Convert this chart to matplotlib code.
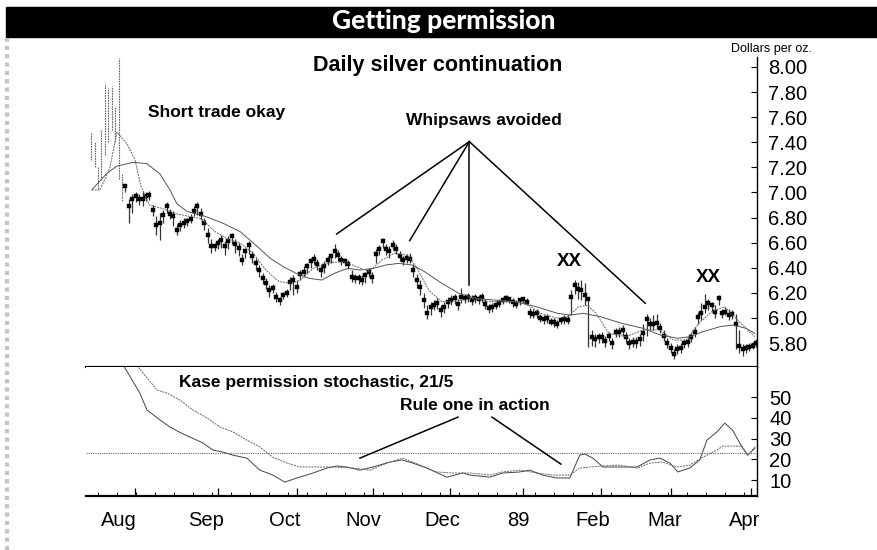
import numpy as np
import matplotlib
matplotlib.use("Agg")
import matplotlib.pyplot as plt
from matplotlib.lines import Line2D
from matplotlib.patches import Rectangle

plt.rcParams['font.family'] = ['Liberation Sans', 'DejaVu Sans']

# ---------------- data ----------------
close = [7.35, 7.30, 7.10, 7.40, 7.75, 7.55, 7.70, 7.50, 7.20, 7.10,
         7.05, 6.89, 6.95, 6.97, 6.95, 6.95, 6.97, 6.98, 6.86, 6.74,
         6.76, 6.82, 6.89, 6.83, 6.81, 6.70, 6.74, 6.76, 6.77, 6.79,
         6.85, 6.89, 6.83, 6.76, 6.66, 6.57, 6.57, 6.60, 6.62, 6.57,
         6.61, 6.65, 6.59, 6.56, 6.46, 6.53, 6.58, 6.49, 6.44, 6.38,
         6.32, 6.28, 6.22, 6.24, 6.17, 6.14, 6.18, 6.20, 6.29, 6.30,
         6.25, 6.35, 6.37, 6.41, 6.45, 6.47, 6.43, 6.38, 6.41, 6.46,
         6.49, 6.53, 6.50, 6.46, 6.45, 6.43, 6.33, 6.32, 6.32, 6.30,
         6.34, 6.37, 6.33, 6.51, 6.55, 6.61, 6.55, 6.53, 6.58, 6.55,
         6.49, 6.46, 6.48, 6.47, 6.38, 6.30, 6.25, 6.14, 6.04, 6.09,
         6.10, 6.12, 6.06, 6.09, 6.13, 6.14, 6.16, 6.11, 6.17, 6.16,
         6.17, 6.14, 6.16, 6.15, 6.17, 6.11, 6.08, 6.09, 6.10, 6.12,
         6.14, 6.16, 6.15, 6.13, 6.11, 6.14, 6.15, 6.13, 6.04, 6.03,
         6.04, 6.00, 5.99, 6.00, 5.97, 5.97, 5.95, 5.98, 5.99, 5.98,
         6.17, 6.26, 6.23, 6.22, 6.18, 6.15, 5.85, 5.83, 5.85, 5.85,
         5.82, 5.86, 5.80, 5.89, 5.89, 5.90, 5.85, 5.80, 5.81, 5.81,
         5.83, 5.88, 5.99, 5.95, 5.95, 5.96, 5.92, 5.86, 5.80, 5.76,
         5.71, 5.75, 5.76, 5.80, 5.81, 5.85, 5.89, 6.01, 6.04, 6.09,
         6.12, 6.10, 6.05, 6.16, 6.04, 6.05, 6.02, 6.03, 5.95, 5.78,
         5.75, 5.76, 5.77, 5.78, 5.80]
high = [7.47, 7.40, 7.20, 7.50, 7.87, 7.83, 7.85, 7.68, 8.07, 7.15,
        7.07, 6.95, 6.99, 7.00, 6.99, 7.01, 7.00, 7.01, 6.90, 6.81,
        6.84, 6.86, 6.92, 6.87, 6.85, 6.75, 6.78, 6.80, 6.80, 6.83,
        6.89, 6.92, 6.88, 6.80, 6.72, 6.63, 6.60, 6.63, 6.66, 6.61,
        6.65, 6.68, 6.63, 6.60, 6.51, 6.56, 6.61, 6.53, 6.48, 6.42,
        6.36, 6.32, 6.26, 6.27, 6.21, 6.17, 6.21, 6.23, 6.33, 6.34,
        6.30, 6.38, 6.41, 6.44, 6.48, 6.51, 6.47, 6.42, 6.45, 6.49,
        6.52, 6.59, 6.54, 6.49, 6.48, 6.46, 6.38, 6.35, 6.35, 6.34,
        6.37, 6.40, 6.37, 6.55, 6.58, 6.64, 6.59, 6.57, 6.62, 6.59,
        6.53, 6.49, 6.51, 6.52, 6.43, 6.35, 6.30, 6.20, 6.10, 6.13,
        6.14, 6.16, 6.10, 6.13, 6.17, 6.18, 6.19, 6.15, 6.24, 6.19,
        6.20, 6.18, 6.19, 6.18, 6.20, 6.15, 6.11, 6.12, 6.13, 6.15,
        6.17, 6.18, 6.17, 6.16, 6.14, 6.16, 6.17, 6.16, 6.08, 6.07,
        6.07, 6.03, 6.02, 6.03, 6.00, 6.00, 5.98, 6.01, 6.02, 6.02,
        6.22, 6.30, 6.29, 6.30, 6.28, 6.17, 5.90, 5.87, 5.88, 5.89,
        5.86, 5.89, 5.84, 5.92, 5.93, 5.94, 5.89, 5.84, 5.85, 5.85,
        5.87, 5.95, 6.03, 6.00, 6.02, 6.03, 5.96, 5.90, 5.84, 5.80,
        5.75, 5.79, 5.80, 5.83, 5.84, 5.88, 5.93, 6.05, 6.12, 6.19,
        6.15, 6.13, 6.10, 6.18, 6.07, 6.09, 6.07, 6.06, 6.03, 5.90,
        5.79, 5.79, 5.80, 5.81, 5.83]
low = [7.26, 7.20, 7.03, 7.10, 7.30, 7.40, 7.50, 7.40, 7.11, 6.93,
       7.00, 6.76, 6.84, 6.92, 6.90, 6.89, 6.93, 6.94, 6.81, 6.66,
       6.62, 6.76, 6.84, 6.79, 6.73, 6.66, 6.69, 6.72, 6.73, 6.76,
       6.81, 6.82, 6.78, 6.70, 6.60, 6.52, 6.53, 6.55, 6.56, 6.50,
       6.55, 6.59, 6.52, 6.49, 6.42, 6.48, 6.51, 6.44, 6.38, 6.33,
       6.27, 6.23, 6.17, 6.20, 6.13, 6.10, 6.15, 6.17, 6.22, 6.18,
       6.20, 6.30, 6.33, 6.36, 6.40, 6.43, 6.38, 6.33, 6.36, 6.42,
       6.44, 6.48, 6.45, 6.42, 6.41, 6.39, 6.29, 6.28, 6.27, 6.26,
       6.28, 6.33, 6.28, 6.44, 6.50, 6.56, 6.50, 6.48, 6.54, 6.51,
       6.45, 6.42, 6.44, 6.44, 6.33, 6.24, 6.18, 6.08, 5.99, 6.02,
       6.06, 6.07, 6.01, 6.04, 6.08, 6.10, 6.11, 6.06, 6.12, 6.12,
       6.13, 6.10, 6.12, 6.11, 6.13, 6.07, 6.04, 6.05, 6.07, 6.09,
       6.11, 6.13, 6.12, 6.09, 6.08, 6.10, 6.12, 6.10, 6.00, 6.00,
       6.00, 5.97, 5.95, 5.96, 5.94, 5.93, 5.92, 5.95, 5.95, 5.95,
       6.02, 6.19, 6.15, 6.14, 6.10, 5.77, 5.78, 5.77, 5.80, 5.80,
       5.77, 5.82, 5.75, 5.85, 5.85, 5.86, 5.80, 5.75, 5.77, 5.76,
       5.78, 5.82, 5.86, 5.90, 5.90, 5.91, 5.88, 5.82, 5.76, 5.72,
       5.67, 5.71, 5.72, 5.76, 5.77, 5.81, 5.85, 5.95, 5.98, 6.04,
       6.06, 6.05, 6.00, 6.10, 6.00, 6.02, 5.98, 5.99, 5.75, 5.72,
       5.70, 5.72, 5.74, 5.75, 5.77]

# moving averages (read at sample points: day index, value)
ma_fast_idx = [0.2, 2.6, 5.5, 7.5, 10.4, 12.8, 14.5, 17, 21, 24.75, 28.5, 32.25, 36,
               39.75, 43.5, 47.25, 51, 54.75, 58.5, 61, 64.75, 68.5, 73.5, 77.25, 81,
               84.75, 88.5, 92.25, 94.75, 98.5, 102.25, 106, 111, 116, 121, 126, 131,
               136, 139, 142.25, 144.75, 147.25, 151, 156, 161, 166, 169.75, 173.5,
               177.25, 181, 184.75, 188.5, 193.5]
ma_fast_val = [7.02, 7.02, 7.20, 7.48, 7.39, 7.26, 7.05, 6.90, 6.87, 6.83, 6.81, 6.79, 6.69,
               6.63, 6.595, 6.515, 6.38, 6.29, 6.276, 6.30, 6.395, 6.435, 6.45, 6.41, 6.37,
               6.46, 6.515, 6.50, 6.41, 6.22, 6.13, 6.13, 6.156, 6.13, 6.13, 6.13, 6.037,
               5.997, 6.01, 6.09, 6.10, 6.037, 5.877, 5.851, 5.904, 5.904, 5.824, 5.824,
               5.957, 6.05, 6.09, 5.984, 5.851]
ma_slow_idx = [0.2, 4.5, 7.5, 12.3, 16.2, 20, 23, 25, 27.9, 33.5, 38.5, 43.5, 48.5, 52.25,
               56, 59.75, 63.5, 67.25, 71, 74.75, 78.5, 82.25, 86, 89.75, 93.5, 97.25,
               102.25, 107.25, 112.25, 117.25, 123.5, 129.75, 136, 139.75, 143.5, 148.5,
               154.75, 161, 166, 171, 174.75, 178.5, 183.5, 187.25, 191, 193.5]
ma_slow_val = [7.02, 7.15, 7.21, 7.24, 7.23, 7.15, 7.02, 6.91, 6.85, 6.807, 6.754, 6.687,
               6.568, 6.475, 6.409, 6.356, 6.316, 6.302, 6.356, 6.395, 6.382, 6.395, 6.422,
               6.435, 6.422, 6.369, 6.276, 6.196, 6.156, 6.143, 6.130, 6.090, 6.037, 6.023,
               6.037, 6.010, 5.957, 5.917, 5.864, 5.838, 5.851, 5.891, 5.931, 5.944, 5.917,
               5.877]

# Kase permission stochastic, 21/5 (two lines, read at sample points)
stoch_a_idx = [0, 8.5, 14.2, 16.3, 20.1, 23, 25.9, 28.8, 32.6, 35.5, 38.4, 41.4, 45.4,
               49.2, 53, 56.5, 60, 64.7, 68.8, 71.7, 74.6, 78.4, 82.2, 87.1, 90.6, 93.8,
               97.9, 103.7, 108.4, 110.5, 116.3, 120, 125, 127.9, 131.7, 135.8, 139.6,
               142.5, 144, 146.3, 149.3, 154.2, 159.2, 163, 165.9, 168.8, 171.1, 174.6,
               177.5, 179.6, 182.5, 184.8, 187.1, 189.8, 191.5, 193.6]
stoch_a_val = [75, 68, 52, 43.8, 39, 35.6, 33, 30.8, 27.9, 24.5, 23.5, 22, 20.6,
               14.8, 12.4, 9, 11, 13.4, 15.8, 16.8, 16.3, 14.8, 16.3, 18.7, 19.7, 18.2,
               15.8, 11.4, 13.4, 12.4, 11.4, 13.4, 13.9, 14.8, 12.4, 11, 11,
               22, 22.6, 20.6, 16.3, 16.3, 16.3, 19.7, 20.6, 18.2, 13.9, 15.8,
               19.7, 29.3, 33.2, 37.5, 34, 26, 22, 25.5]
stoch_b_idx = [0, 13, 19.2, 22.1, 25.9, 29.7, 33.8, 37.6, 41.4, 45.4, 49.2, 53, 57.1,
               60.9, 64.7, 70.5, 76.4, 81.3, 86.3, 90.9, 95.9, 100.8, 105.5, 110.5,
               116.3, 120, 125, 130, 134.7, 139.6, 142.5, 145.5, 149.3, 154.2, 159.2,
               163, 166.7, 170.8, 174.6, 178.4, 182.5, 184.2, 189.8, 191.5, 193.6]
stoch_b_val = [78, 66, 53.5, 52, 48.6, 43.8, 40, 35.6, 33.2, 29.3, 26, 21, 18.2,
               16.3, 16.3, 16.3, 15.8, 14.8, 18.2, 20.6, 17.2, 13.9, 13.4, 13.4,
               12.4, 13.9, 14.8, 13.4, 12.4, 12.4, 15.8, 16.3, 16.8, 17.2, 15.8,
               18.2, 18.7, 16.3, 17.2, 21, 24.5, 26.4, 26.4, 22, 26]
permission_level = 23

price_ticks = [5.80, 6.00, 6.20, 6.40, 6.60, 6.80, 7.00, 7.20, 7.40, 7.60, 7.80, 8.00]
stoch_ticks = [10, 20, 30, 40, 50]
month_labels = ['Aug', 'Sep', 'Oct', 'Nov', 'Dec', '89', 'Feb', 'Mar', 'Apr']
month_label_pos = [8.1, 33.5, 56.5, 79.3, 102.3, 124.5, 146.3, 167.3, 190.6]
month_tick_pos = [12.8, 37, 60, 82.2, 104.7, 125.9, 148.7, 169.1, 192.4]

# ---------------- figure ----------------
W, H = 878, 550
fig = plt.figure(figsize=(W / 100, H / 100), dpi=100)
fig.patch.set_facecolor('white')

def fx(px):
    return px / W

def fy(py):
    return 1 - py / H

# title bar
fig.patches.append(Rectangle((fx(6), fy(37)), 1 - fx(6), fy(7) - fy(37),
                             transform=fig.transFigure, color='black', zorder=0))
fig.text(fx(444), fy(21), 'Getting permission', color='white', ha='center', va='center',
         fontsize=19, fontweight='black', family=['Lato', 'DejaVu Sans'])
# scan stripe at left
fig.lines.append(Line2D([fx(7), fx(7)], [0, fy(38)], transform=fig.transFigure,
                        color='#c4c4c4', lw=3, ls=(0, (1, 1))))

xl = (-1.5, 194.2)

# ---------------- price panel ----------------
ax1 = fig.add_axes([fx(86), fy(367), fx(757) - fx(86), fy(40) - fy(367)])
ax1.set_xlim(*xl)
ax1.set_ylim(5.609, 8.215)
idx = np.arange(len(close))
faint = idx < 10
ax1.vlines(idx[faint], np.array(low)[faint], np.array(high)[faint], color='#666666',
           lw=0.8, linestyles=(0, (1.5, 0.8)))
ax1.vlines(idx[~faint], np.array(low)[~faint], np.array(high)[~faint], color='#333333',
           lw=0.9)
ax1.plot(idx[~faint], np.array(close)[~faint], 's', ms=3.0, color='black', mec='black',
         mew=0.3)
ax1.plot(ma_slow_idx, ma_slow_val, color='#555555', lw=0.7)
ax1.plot(ma_fast_idx, ma_fast_val, color='#666666', lw=0.7, ls=(0, (2, 1)))

for s in ['top', 'left']:
    ax1.spines[s].set_visible(False)
ax1.spines['bottom'].set_linewidth(1.6)
ax1.spines['right'].set_linewidth(1.0)
ax1.spines['right'].set_bounds(5.609, 8.08)
ax1.set_xticks([])
ax1.yaxis.tick_right()
ax1.set_yticks(price_ticks)
ax1.set_yticklabels([f'{v:.2f}' for v in price_ticks])
ax1.tick_params(axis='y', direction='in', length=4, width=0.8, pad=8, labelsize=14.5)

# annotations price panel
apex = (110.3, 7.405)
for ex, ey in [(71.6, 6.669), (92.9, 6.616), (110.3, 6.263), (161.6, 6.117)]:
    ax1.plot([apex[0], ex], [apex[1], ey], color='black', lw=1.1)

fig.text(fx(438), fy(65), 'Daily silver continuation', ha='center', va='center',
         fontsize=15.5, fontweight='bold')
fig.text(fx(217), fy(112), 'Short trade okay', ha='center', va='center',
         fontsize=12.5, fontweight='bold')
fig.text(fx(484), fy(120), 'Whipsaws avoided', ha='center', va='center',
         fontsize=12.5, fontweight='bold')
fig.text(fx(569), fy(261), 'XX', ha='center', va='center', fontsize=13.5, fontweight='bold')
fig.text(fx(708), fy(278), 'XX', ha='center', va='center', fontsize=13.5, fontweight='bold')
fig.text(fx(771), fy(49), 'Dollars per oz.', ha='center', va='center', fontsize=9)

# ---------------- stochastic panel ----------------
ax2 = fig.add_axes([fx(86), fy(496), fx(757) - fx(86), fy(367) - fy(496)])
ax2.set_xlim(*xl)
ax2.set_ylim(2.3, 64.6)
ax2.plot(stoch_a_idx, stoch_a_val, color='#444444', lw=0.7)
ax2.plot(stoch_b_idx, stoch_b_val, color='#666666', lw=0.7, ls=(0, (2, 1)))
ax2.axhline(permission_level, color='#666666', lw=0.8, ls=(0, (1, 1)))

for s in ['top', 'left']:
    ax2.spines[s].set_visible(False)
ax2.spines['bottom'].set_linewidth(1.6)
ax2.spines['right'].set_linewidth(1.0)
ax2.yaxis.tick_right()
ax2.set_yticks(stoch_ticks)
ax2.set_yticklabels([str(v) for v in stoch_ticks])
ax2.tick_params(axis='y', direction='in', length=4, width=0.8, pad=9, labelsize=14.5)
ax2.set_xticks(month_tick_pos)
ax2.set_xticks(np.arange(2.1, 194, 5.54), minor=True)
ax2.tick_params(axis='x', which='major', direction='in', length=6, width=0.9,
                labelbottom=False)
ax2.tick_params(axis='x', which='minor', direction='in', length=3, width=0.7)
for lab, pos in zip(month_labels, month_label_pos):
    ax2.text(pos, -0.236, lab, transform=ax2.get_xaxis_transform(), ha='center',
             va='baseline', fontsize=14.5)

ax2.plot([107, 78.4], [40.4, 20.6], color='black', lw=1.1)
ax2.plot([116.9, 137], [40.4, 17.7], color='black', lw=1.1)
fig.text(fx(316), fy(383), 'Kase permission stochastic, 21/5', ha='center', va='center',
         fontsize=12.5, fontweight='bold')
fig.text(fx(475), fy(405), 'Rule one in action', ha='center', va='center',
         fontsize=12.5, fontweight='bold')

fig.savefig('out.png', dpi=100)
